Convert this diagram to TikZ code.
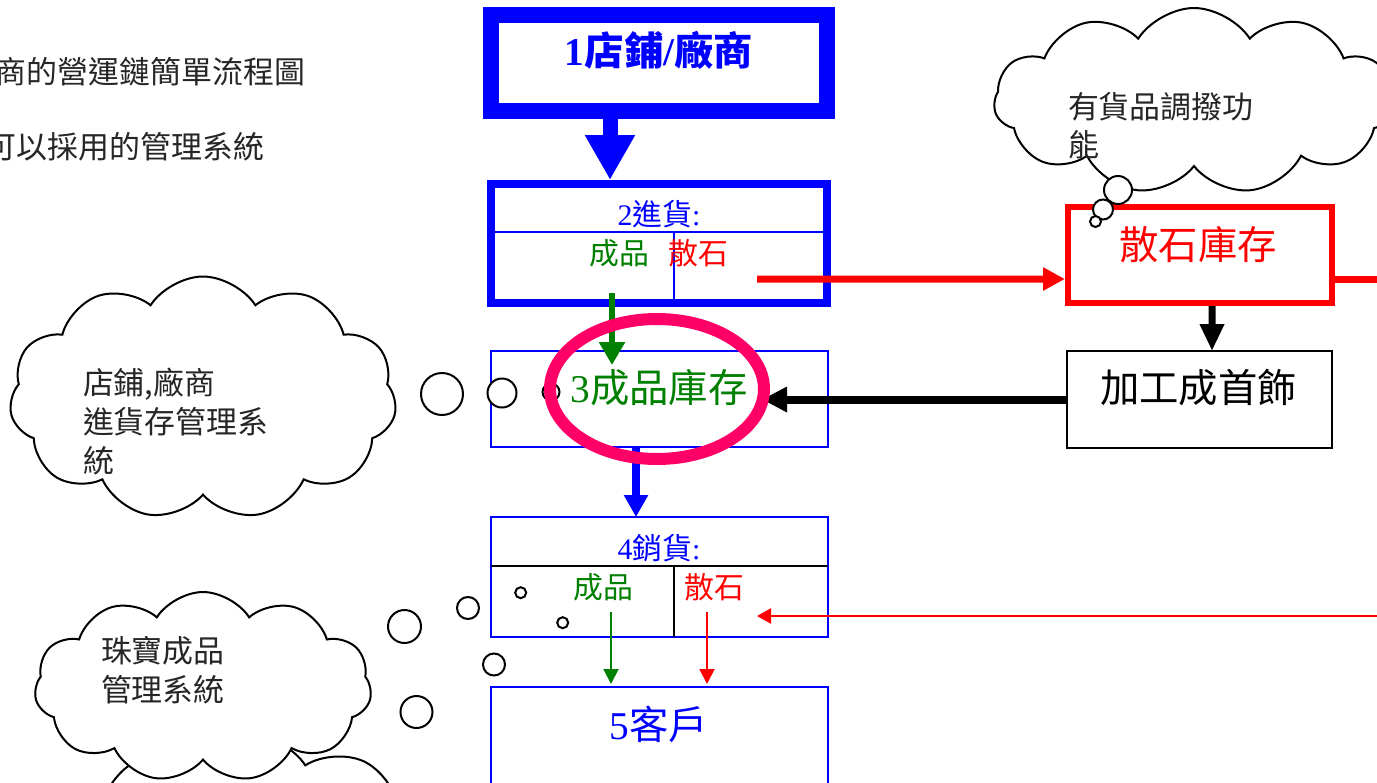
\documentclass[tikz,border=0pt]{standalone}
\usepackage{fontspec}
\setmainfont{Liberation Serif}
\newfontfamily\cjk{Noto Sans CJK TC}
\usetikzlibrary{arrows.meta,shapes.geometric,shapes.symbols,calc}
\definecolor{pblue}{RGB}{0,0,255}
\definecolor{pgreen}{RGB}{0,128,0}
\definecolor{pred}{RGB}{255,0,0}
\definecolor{ppink}{RGB}{255,0,102}
\newdimen\pxu \pxu=0.02cm
\newcommand\fbig{\fontsize{22.4}{26}\selectfont}
\newcommand\fmid{\fontsize{17}{21}\selectfont}
\newcommand\fcl{\fontsize{17.6}{22.1}\selectfont}
\begin{document}
\begin{tikzpicture}[x=0.02cm,y=-0.02cm,
  box/.style={rectangle, inner sep=0, outer sep=0},
  thinbox/.style={box, line width=2\pxu},
  cloudsty/.style={cloud, cloud puffs=11, cloud puff arc=115, cloud ignores aspect,
     draw=black, fill=white, line width=2\pxu, inner sep=0, outer sep=0},
  bub/.style={circle, draw=black, fill=white, line width=2\pxu, inner sep=0, outer sep=0},
  lbl/.style={inner sep=0, outer sep=0},
  cltxt/.style={lbl, font=\fcl\cjk, align=left, anchor=north west, text=black!85}]
\useasboundingbox (0,0) rectangle (1377,782);
\fill[white] (0,0) rectangle (1377,782);

% top-left text (cut at the left edge, as in the reference)
\node[lbl, font=\fcl\cjk, anchor=north east, text=black!85] (tl1) at (305,57) {商的營運鏈簡單流程圖};
\node[lbl, font=\fcl\cjk, anchor=north east, text=black!85] (tl2) at (264,132) {可以採用的管理系統};

% clouds
\node[cloudsty, minimum width=400\pxu, minimum height=186\pxu] (cl1) at (1194,101) {};
\node[cltxt] (cl1t) at (1068,92) {有貨品調撥功\\能};
\node[cloudsty, minimum width=387\pxu, minimum height=243\pxu] (cl2) at (203,398) {};
\node[cltxt] (cl2t) at (83,368) {店鋪,廠商\\進貨存管理系\\統};
\node[cloudsty, minimum width=420\pxu, minimum height=330\pxu] (cl4) at (250,900) {};
\node[cloudsty, minimum width=337\pxu, minimum height=190\pxu] (cl3) at (203,687) {};
\node[cltxt] (cl3t) at (101,636) {珠寶成品\\管理系統};

% boxes
\node[box, draw=pblue, line width=16\pxu, minimum width=336\pxu, minimum height=96\pxu] (b1) at (659,63) {};
\node[lbl, font=\fbig\bfseries, text=pblue] (b1t) at (659,50) {1{\cjk 店鋪}/{\cjk 廠商}};

\node[box, draw=pblue, line width=7.5\pxu, minimum width=336\pxu, minimum height=119\pxu] (b2) at (659,243.5) {};
\draw[pblue, line width=1.5\pxu] (495,232) -- (823,232);
\draw[pblue, line width=1.5\pxu] (674,232) -- (674,299);
\node[lbl, font=\fmid, text=pblue] (b2t) at (659,214) {2{\cjk 進貨}:};
\node[lbl, font=\fmid\cjk, text=pgreen] (b2a) at (619,253) {成品};
\node[lbl, font=\fmid\cjk, text=pred] (b2b) at (698,253) {散石};

\node[thinbox, draw=pblue, minimum width=337\pxu, minimum height=96\pxu] (b3) at (659.5,399) {};
\node[lbl, font=\fbig, text=pgreen] (b3t) at (659,388) {3{\cjk 成品庫存}};

\node[thinbox, draw=pblue, minimum width=337\pxu, minimum height=120\pxu] (b4) at (659.5,577) {};
\draw[black, line width=2\pxu] (491,566) -- (828,566);
\draw[black, line width=2\pxu] (674,566) -- (674,637);
\node[lbl, font=\fmid, text=pblue] (b4t) at (659,548) {4{\cjk 銷貨}:};
\node[lbl, font=\fmid\cjk, text=pgreen] (b4a) at (603,587) {成品};
\node[lbl, font=\fmid\cjk, text=pred] (b4b) at (714,587) {散石};

\node[thinbox, draw=pblue, minimum width=337\pxu, minimum height=153\pxu] (b5) at (659.5,763.5) {};
\node[lbl, font=\fbig, text=pblue] (b5t) at (659,724) {5{\cjk 客戶}};

\node[box, draw=pred, line width=6.5\pxu, minimum width=264\pxu, minimum height=96\pxu] (sb) at (1200,255) {};
\node[lbl, font=\fbig\cjk, text=pred] (sbt) at (1198,245) {散石庫存};

\node[thinbox, draw=black, minimum width=265\pxu, minimum height=97\pxu] (jg) at (1199.5,399.5) {};
\node[lbl, font=\fbig\cjk, text=black] (jgt) at (1198.5,388) {加工成首飾};

% free ends at the right edge
\coordinate (rr1) at (1400,279);
\coordinate (rr2) at (1400,616);

% connectors
\draw[pblue, line width=15\pxu, -{Triangle[width=0.94cm,length=0.9cm]}]
  ($(b1.south)+(-49,0)$) -- ($(b2.north)+(-49,-4)$);
\draw[pgreen, line width=6\pxu, -{Triangle[width=0.5cm,length=0.46cm]}]
  ($(b2.south)+(-47,-10)$) -- ($(b3.north)+(-47.5,14)$);
\draw[pblue, line width=8\pxu, -{Triangle[width=0.46cm,length=0.44cm]}]
  ($(b3.south)+(-23.5,0)$) -- ($(b4.north)+(-23.5,0)$);
\draw[pred, line width=7\pxu, -{Triangle[width=0.44cm,length=0.44cm]}]
  ($(b2.east)+(-70,35.5)$) -- ($(sb.west)+(-3,24)$);
\draw[pred, line width=7\pxu] ($(sb.east)+(3,24)$) -- (rr1);
\draw[pred, line width=2.5\pxu, -{Triangle[width=0.3cm,length=0.28cm]}]
  (rr2) -- ($(b4.east)+(-71,39)$);
\draw[black, line width=7\pxu, -{Triangle[width=0.46cm,length=0.54cm]}]
  ($(sb.south)+(12,3)$) -- ($(jg.north)+(12.5,0)$);
\draw[black, line width=8\pxu, -{Triangle[width=0.48cm,length=0.5cm]}]
  (jg.west) -- ($(b3.east)+(-66,0.5)$);
\draw[pgreen, line width=2\pxu, -{Triangle[width=0.3cm,length=0.3cm]}]
  ($(b4.south)+(-48.5,-25)$) -- ($(b5.north)+(-48.5,-3)$);
\draw[pred, line width=2\pxu, -{Triangle[width=0.3cm,length=0.3cm]}]
  ($(b4.south)+(47.5,-25)$) -- ($(b5.north)+(47.5,-3)$);

% thought bubbles
\node[bub, minimum size=28\pxu] (c1a) at (1118,190) {};
\node[bub, minimum size=20\pxu] (c1b) at (1103,209.5) {};
\node[bub, minimum size=11\pxu] (c1c) at (1095.5,221.5) {};
\node[bub, minimum size=42\pxu] (c2a) at (442,394) {};
\node[bub, minimum size=29\pxu] (c2b) at (502,393) {};
\node[bub, minimum size=17\pxu] (c2c) at (551,392) {};
\node[bub, minimum size=33\pxu] (c3a) at (404.5,626.5) {};
\node[bub, minimum size=22\pxu] (c3b) at (468,608) {};
\node[bub, minimum size=11\pxu] (c3c) at (520.7,592.7) {};
\node[bub, minimum size=32\pxu] (c4a) at (416.5,712) {};
\node[bub, minimum size=22\pxu] (c4b) at (494,664.5) {};
\node[bub, minimum size=11\pxu] (c4c) at (562.7,622.7) {};

% highlight ellipse
\node[ellipse, draw=ppink, line width=12\pxu, minimum width=214\pxu, minimum height=140\pxu, inner sep=0] (ell) at (657,389) {};
\end{tikzpicture}
\end{document}
